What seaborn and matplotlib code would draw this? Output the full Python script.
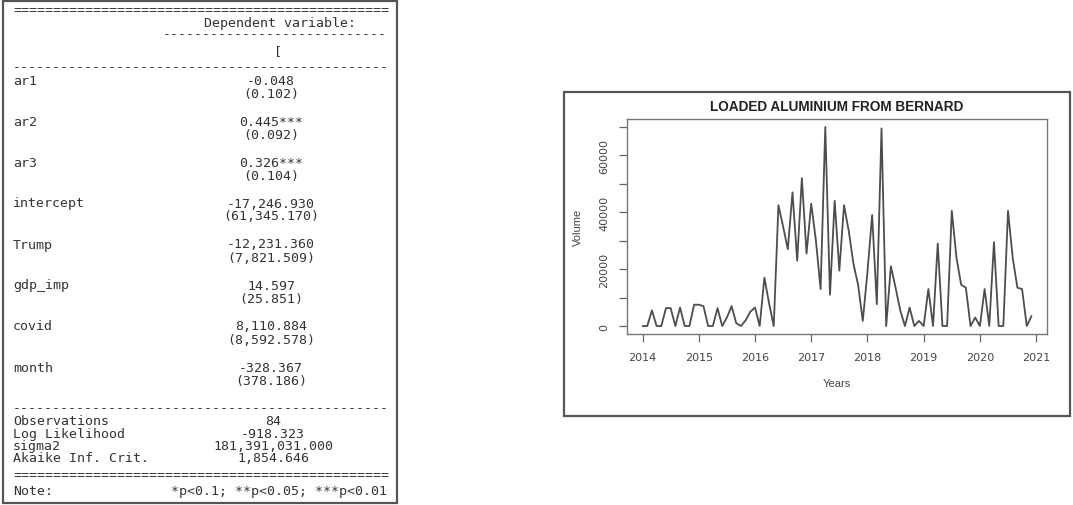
import numpy as np
import pandas as pd
import matplotlib
matplotlib.use("Agg")
import matplotlib.pyplot as plt
import seaborn as sns

# Tabla de regresion (salida tipo stargazer)
dep_var = "["
coef_names = ["ar1", "ar2", "ar3", "intercept", "Trump", "gdp_imp", "covid", "month"]
coef_vals = ["-0.048", "0.445***", "0.326***", "-17,246.930", "-12,231.360",
             "14.597", "8,110.884", "-328.367"]
coef_se = ["(0.102)", "(0.092)", "(0.104)", "(61,345.170)", "(7,821.509)",
           "(25.851)", "(8,592.578)", "(378.186)"]
stat_names = ["Observations", "Log Likelihood", "sigma2", "Akaike Inf. Crit."]
stat_vals = ["84", "-918.323", "181,391,031.000", "1,854.646"]
note_text = "*p<0.1; **p<0.05; ***p<0.01"

# Serie mensual de volumen, ene 2014 - dic 2020
vol_2014 = [0, 0, 5500, 0, 0, 6300, 6300, 0, 6500, 0, 0, 7500]
vol_2015 = [7500, 7000, 0, 0, 6300, 0, 3000, 7000, 1000, 0, 2000, 5000]
vol_2016 = [6500, 0, 17000, 8000, 0, 42500, 35000, 27000, 47000, 23000, 52000, 25500]
vol_2017 = [43000, 30000, 13000, 70000, 11000, 44000, 19500, 42500, 33500, 22000, 14500, 1800]
vol_2018 = [19000, 39000, 7700, 69500, 0, 21000, 13500, 5500, 0, 6500, 0, 1800]
vol_2019 = [0, 13000, 0, 29000, 0, 0, 40500, 24000, 14500, 13500, 0, 3000]
vol_2020 = [0, 13000, 0, 29500, 0, 0, 40500, 24000, 13500, 13000, 0, 3500]
start_year = 2014

x_ticks = [2014, 2015, 2016, 2017, 2018, 2019, 2020, 2021]
y_ticks = [0, 10000, 20000, 30000, 40000, 50000, 60000, 70000]
y_tick_labels = ["0", "", "20000", "", "40000", "", "60000", ""]

volume = vol_2014 + vol_2015 + vol_2016 + vol_2017 + vol_2018 + vol_2019 + vol_2020
df = pd.DataFrame({"Years": start_year + np.arange(len(volume)) / 12, "Volume": volume})

sns.set_style("white")
W, H = 1073, 506
fig = plt.figure(figsize=(W / 100, H / 100), dpi=100)

# capa de fondo en pixeles
bg = fig.add_axes([0, 0, 1, 1])
bg.set_xlim(0, W)
bg.set_ylim(H, 0)
bg.axis("off")
bg.add_patch(plt.Rectangle((3, 2), 394, 502, fill=False, ec="#555555", lw=1.6))
bg.add_patch(plt.Rectangle((564, 93), 506, 324, fill=False, ec="#555555", lw=1.6))

# ---- tabla ----
mono = dict(family="DejaVu Sans Mono", size=9.5, color="#333333", va="center")
left, right, mid = 13, 387, 271
full_eq = "=" * 47
full_dash = "-" * 47

bg.text(left, 11, full_eq, ha="left", **mono)
bg.text(280, 23, "Dependent variable:", ha="center", **mono)
bg.text(right, 35, "-" * 28, ha="right", **mono)
bg.text(278, 52, dep_var, ha="center", **mono)
bg.text(left, 68, full_dash, ha="left", **mono)

for i, (name, val, se) in enumerate(zip(coef_names, coef_vals, coef_se)):
    y = 81 + i * 41
    bg.text(left, y, name, ha="left", **mono)
    bg.text(mid, y, val, ha="center", **mono)
    bg.text(mid, y + 13, se, ha="center", **mono)

bg.text(left, 409, full_dash, ha="left", **mono)
for j, (name, val) in enumerate(zip(stat_names, stat_vals)):
    y = 422 + j * 12.3
    bg.text(left, y, name, ha="left", **mono)
    bg.text(mid + 2, y, val, ha="center", **mono)
bg.text(left, 476, full_eq, ha="left", **mono)
bg.text(left, 492, "Note:", ha="left", **mono)
bg.text(right, 492, note_text, ha="right", **mono)

# ---- grafico ----
ax = fig.add_axes([627 / W, 1 - 335 / H, 420 / W, 215 / H])
sns.lineplot(data=df, x="Years", y="Volume", ax=ax, color="#4d4d4d", lw=1.3)

# margenes al estilo R (4%)
xmin, xmax = df["Years"].min(), df["Years"].max()
ymin, ymax = df["Volume"].min(), df["Volume"].max()
ax.set_xlim(xmin - 0.04 * (xmax - xmin), xmax + 0.04 * (xmax - xmin))
ax.set_ylim(ymin - 0.04 * (ymax - ymin), ymax + 0.04 * (ymax - ymin))

ax.set_xticks(x_ticks)
ax.set_xticklabels([str(v) for v in x_ticks])
ax.set_yticks(y_ticks)
ax.set_yticklabels(y_tick_labels, rotation=90, va="center")
ax.tick_params(direction="out", length=6, width=0.9, color="#666666",
               labelcolor="#444444", labelsize=8, pad=7)
ax.tick_params(axis="both", which="both", bottom=True, left=True)
for s in ax.spines.values():
    s.set_color("#777777")
    s.set_linewidth(1.0)
ax.set_xlabel("")
ax.set_ylabel("")

bg.text(837, 107, "LOADED ALUMINIUM FROM BERNARD", ha="center", va="center",
        family="Liberation Sans", fontweight="bold", size=9.8, color="#222222")
bg.text(837, 384, "Years", ha="center", va="center", family="Liberation Sans",
        size=8, color="#444444")
bg.text(578, 227, "Volume", ha="center", va="center", rotation=90,
        family="Liberation Sans", size=8, color="#444444")

fig.savefig("out.png", dpi=100)
